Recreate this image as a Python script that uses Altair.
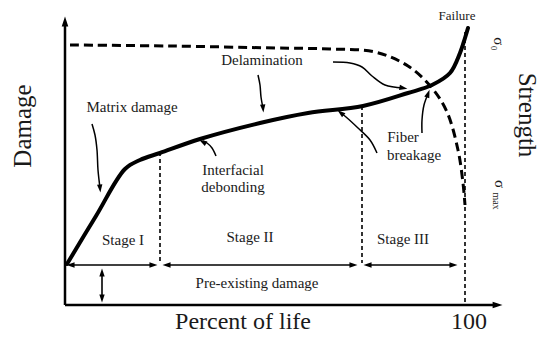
import altair as alt
import pandas as pd

# ---- schematic data (reference pixel space: x to the right, y downwards) ----
damage_x = [67, 96, 125, 140, 160, 200, 260, 308, 363, 408, 432, 450, 460, 465, 468]
damage_y = [264, 216, 169, 160, 153, 139, 123, 113, 106, 93, 85, 73, 53, 38, 28]

strength_x = [70, 170, 275, 330, 375, 408, 432, 447, 458, 463, 465]
strength_y = [45, 46, 48, 49, 52, 66, 88, 112, 150, 183, 205]

axis_paths = {
    "yaxis": ([65, 65], [305, 22]),
    "xaxis": ([65, 497], [305, 305]),
}
stage_arrow_paths = {
    "s1": ([70, 154], [265, 265]),
    "s2": ([166, 354], [265, 265]),
    "s3": ([367, 454], [265, 265]),
    "pre": ([102, 102], [272, 299]),
}
stage_lines = {
    "b1": ([160, 160], [152, 263]),
    "b2": ([362, 362], [106, 263]),
    "b3": ([465, 465], [32, 303]),
}
pointer_paths = {
    "matrix": ([92, 95, 97, 98, 100], [124, 135, 150, 170, 188]),
    "delam1": ([258, 260, 261, 263], [75, 85, 97, 108]),
    "delam2": ([333, 350, 362, 372, 385, 403], [62, 63, 67, 76, 85, 88]),
    "interf": ([216, 212, 207, 203], [156, 148, 143, 141]),
    "fiber1": ([377, 370, 358, 346, 341], [153, 140, 128, 117, 113]),
    "fiber2": ([422, 422, 424, 428], [133, 120, 105, 94]),
}

arrow_x = [65, 497, 153, 71, 167, 353, 368, 453, 102, 102, 100, 263, 403, 203, 341, 428]
arrow_y = [22, 305, 265, 265, 265, 265, 265, 265, 273, 298, 188, 108, 88, 142, 113, 94]
arrow_angle = [0, 90, 90, 270, 270, 90, 270, 90, 0, 180, 175, 175, 100, 300, 310, 20]
arrow_size = [120, 120, 80, 80, 80, 80, 80, 80, 80, 80, 80, 80, 80, 80, 80, 80]

text_labels = ["Damage", "Strength", "Percent of life", "100", "Failure",
               "Matrix damage", "Delamination", "Interfacial", "debonding",
               "Fiber", "breakage", "Stage I", "Stage II", "Stage III",
               "Pre-existing damage", "σ₀", "σ", "max"]
text_x = [23, 527, 243, 469, 457, 132, 262, 233, 233, 403, 414, 123, 250, 403, 257, 499, 500, 496]
text_y = [126, 115, 322, 322, 16, 107, 60, 170, 187, 137, 155, 240, 237, 239, 283, 44, 184, 201]
text_size = [25, 25, 24, 24, 13, 15, 15, 15, 15, 15, 15, 15, 15, 15, 15, 15, 15, 10]
text_angle = [270, 90, 0, 0, 0, 0, 0, 0, 0, 0, 0, 0, 0, 0, 0, 90, 90, 90]


def paths_df(paths):
    rows = []
    for name, (xs, ys) in paths.items():
        for i, (x, y) in enumerate(zip(xs, ys)):
            rows.append({"path": name, "i": i, "x": x, "y": y})
    return pd.DataFrame(rows)


X = alt.X("x:Q", scale=alt.Scale(domain=[8, 542], nice=False, zero=False), axis=None)
Y = alt.Y("y:Q", scale=alt.Scale(domain=[335, 8], nice=False, zero=False), axis=None)

damage_df = pd.DataFrame({"x": damage_x, "y": damage_y, "i": range(len(damage_x))})
strength_df = pd.DataFrame({"x": strength_x, "y": strength_y, "i": range(len(strength_x))})

damage = alt.Chart(damage_df).mark_line(
    color="black", strokeWidth=4, interpolate="catmull-rom", strokeCap="round"
).encode(x=X, y=Y, order="i:Q")

strength = alt.Chart(strength_df).mark_line(
    color="black", strokeWidth=3, strokeDash=[9, 5], interpolate="catmull-rom"
).encode(x=X, y=Y, order="i:Q")

axes = alt.Chart(paths_df(axis_paths)).mark_line(color="black", strokeWidth=2.5).encode(
    x=X, y=Y, detail="path:N", order="i:Q")

stage_arrows = alt.Chart(paths_df(stage_arrow_paths)).mark_line(color="black", strokeWidth=1.6).encode(
    x=X, y=Y, detail="path:N", order="i:Q")

boundaries = alt.Chart(paths_df(stage_lines)).mark_line(
    color="black", strokeWidth=1.6, strokeDash=[4, 3]).encode(
    x=X, y=Y, detail="path:N", order="i:Q")

pointers = alt.Chart(paths_df(pointer_paths)).mark_line(
    color="black", strokeWidth=1.5, interpolate="catmull-rom").encode(
    x=X, y=Y, detail="path:N", order="i:Q")

heads_df = pd.DataFrame({"x": arrow_x, "y": arrow_y, "angle": arrow_angle, "size": arrow_size})
heads = alt.Chart(heads_df).mark_point(
    shape="M0,-1L0.6,0.8L-0.6,0.8Z", filled=True, color="black", opacity=1, strokeWidth=0
).encode(
    x=X, y=Y,
    angle=alt.Angle("angle:Q", scale=None),
    size=alt.Size("size:Q", scale=None),
)

text_df = pd.DataFrame({"label": text_labels, "x": text_x, "y": text_y,
                        "fs": text_size, "ang": text_angle})
texts = alt.Chart(text_df).mark_text(
    font="Liberation Serif", color="#1a1a1a", align="center", baseline="middle"
).encode(
    x=X, y=Y, text="label:N",
    size=alt.Size("fs:Q", scale=None),
    angle=alt.Angle("ang:Q", scale=None),
)

chart = alt.layer(
    boundaries, strength, damage, axes, stage_arrows, pointers, heads, texts
).properties(
    width=534, height=327, padding=0, autosize=alt.AutoSizeParams(type="none"),
    background="white"
).configure_view(stroke=None)

chart.save("out.html", embed_options={"renderer": "svg", "actions": False})
